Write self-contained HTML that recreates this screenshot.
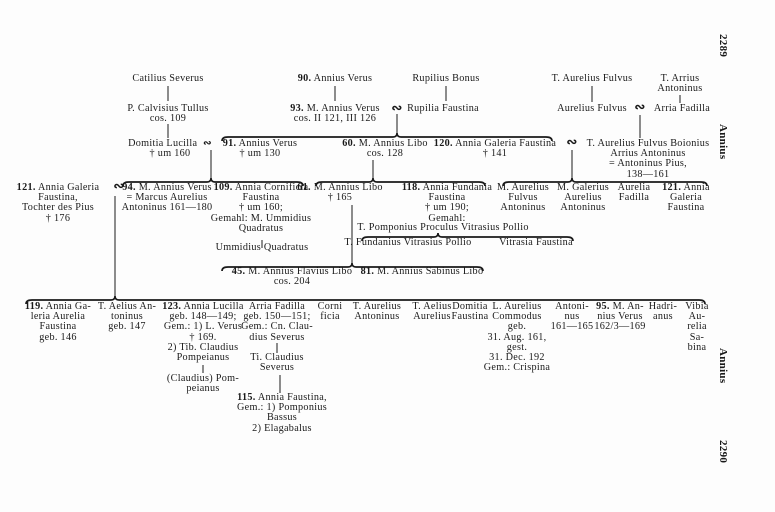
<!DOCTYPE html>
<html><head><meta charset="utf-8"><style>
body{margin:0;background:#fff}
#p{position:relative;width:775px;height:512px;overflow:hidden;background:#fdfdfd;font-family:"Liberation Serif",serif;color:#1a1a1a;font-size:10.2px;letter-spacing:0.3px}
.t{position:absolute;transform:translateX(-50%);text-align:center;white-space:nowrap;line-height:10.2px}
.r{position:absolute;transform:rotate(90deg);transform-origin:left top;white-space:nowrap;font-weight:bold;font-size:11px}
svg{position:absolute;left:0;top:0}
</style></head><body><div id="p">
<svg width="775" height="512" fill="none" stroke="#1a1a1a">
<g stroke-width="1">
<line x1="168" y1="86" x2="168" y2="101"/><line x1="168" y1="124" x2="168" y2="138"/>
<line x1="335" y1="86" x2="335" y2="101"/><line x1="446" y1="86" x2="446" y2="101"/>
<line x1="397" y1="114" x2="397" y2="134"/>
<line x1="592" y1="86" x2="592" y2="102"/><line x1="680" y1="95" x2="680" y2="103"/>
<line x1="640" y1="115" x2="640" y2="138"/>
<line x1="211" y1="150" x2="211" y2="179"/><line x1="373" y1="160" x2="373" y2="179"/>
<line x1="572" y1="150" x2="572" y2="179"/><line x1="352" y1="205" x2="352" y2="264"/>
<line x1="115" y1="196" x2="115" y2="298"/><line x1="262" y1="240" x2="262" y2="248"/>
<line x1="277" y1="343" x2="277" y2="353"/><line x1="280" y1="375" x2="280" y2="393"/>
<line x1="203" y1="365" x2="203" y2="373"/>
</g>
<g stroke-width="1.7">
<path d="M222,141 Q222,137 228,137 L393,137 Q397,137 397,133 Q397,137 401,137 L546,137 Q552,137 552,141"/>
<path d="M123,186 Q123,182 129,182 L207,182 Q211,182 211,178 Q211,182 215,182 L297,182 Q303,182 303,186"/>
<path d="M316,186 Q316,182 322,182 L369,182 Q373,182 373,178 Q373,182 377,182 L479,182 Q485,182 485,186"/>
<path d="M503,186 Q503,182 509,182 L568,182 Q572,182 572,178 Q572,182 576,182 L701,182 Q707,182 707,186"/>
<path d="M362,241 Q362,237 368,237 L434,237 Q438,237 438,233 Q438,237 442,237 L567,237 Q573,237 573,241"/>
<path d="M222,271 Q222,267 228,267 L348,267 Q352,267 352,263 Q352,267 356,267 L477,267 Q483,267 483,271"/>
<path d="M26,304 Q26,300 32,300 L111,300 Q115,300 115,296 Q115,300 119,300 L699,300 Q705,300 705,304"/>
</g></svg>

<div class="t" style="left:168px;top:74px">Catilius Severus</div>
<div class="t" style="left:168px;top:104px">P. Calvisius Tullus<br>cos. 109</div>
<div class="t" style="left:170px;top:139px">Domitia Lucilla &nbsp;<b>∾</b><br>† um 160</div>
<div class="t" style="left:260px;top:139px"><b>91.</b> Annius Verus<br>† um 130</div>
<div class="t" style="left:335px;top:74px"><b>90.</b> Annius Verus</div>
<div class="t" style="left:335px;top:104px"><b>93.</b> M. Annius Verus<br>cos. II 121, III 126</div>
<div class="t" style="left:397px;top:103px;font-size:13px"><b>∾</b></div>
<div class="t" style="left:446px;top:74px">Rupilius Bonus</div>
<div class="t" style="left:443px;top:104px">Rupilia Faustina</div>
<div class="t" style="left:385px;top:139px"><b>60.</b> M. Annius Libo<br>cos. 128</div>
<div class="t" style="left:495px;top:139px"><b>120.</b> Annia Galeria Faustina<br>† 141</div>
<div class="t" style="left:572px;top:137px;font-size:13px"><b>∾</b></div>
<div class="t" style="left:648px;top:139px">T. Aurelius Fulvus Boionius<br>Arrius Antoninus<br>= Antoninus Pius,<br>138—161</div>
<div class="t" style="left:592px;top:74px">T. Aurelius Fulvus</div>
<div class="t" style="left:592px;top:104px">Aurelius Fulvus</div>
<div class="t" style="left:640px;top:102px;font-size:13px"><b>∾</b></div>
<div class="t" style="left:680px;top:74px">T. Arrius<br>Antoninus</div>
<div class="t" style="left:682px;top:104px">Arria Fadilla</div>

<div class="t" style="left:58px;top:183px"><b>121.</b> Annia Galeria<br>Faustina,<br>Tochter des Pius<br>† 176</div>
<div class="t" style="left:119px;top:181px;font-size:13px"><b>∾</b></div>
<div class="t" style="left:167px;top:183px"><b>94.</b> M. Annius Verus<br>= Marcus Aurelius<br>Antoninus 161—180</div>
<div class="t" style="left:261px;top:183px"><b>109.</b> Annia Cornificia<br>Faustina<br>† um 160;<br>Gemahl: M. Ummidius<br>Quadratus</div>
<div class="t" style="left:262px;top:243px">Ummidius Quadratus</div>
<div class="t" style="left:340px;top:183px"><b>61.</b> M. Annius Libo<br>† 165</div>
<div class="t" style="left:447px;top:183px"><b>118.</b> Annia Fundania<br>Faustina<br>† um 190;<br>Gemahl:</div>
<div class="t" style="left:443px;top:223px">T. Pomponius Proculus Vitrasius Pollio</div>
<div class="t" style="left:408px;top:238px">T. Fundanius Vitrasius Pollio</div>
<div class="t" style="left:536px;top:238px">Vitrasia Faustina</div>
<div class="t" style="left:523px;top:183px">M. Aurelius<br>Fulvus<br>Antoninus</div>
<div class="t" style="left:583px;top:183px">M. Galerius<br>Aurelius<br>Antoninus</div>
<div class="t" style="left:634px;top:183px">Aurelia<br>Fadilla</div>
<div class="t" style="left:686px;top:183px"><b>121.</b> Annia<br>Galeria<br>Faustina</div>
<div class="t" style="left:292px;top:267px"><b>45.</b> M. Annius Flavius Libo<br>cos. 204</div>
<div class="t" style="left:422px;top:267px"><b>81.</b> M. Annius Sabinus Libo</div>

<div class="t" style="left:58px;top:302px"><b>119.</b> Annia Ga-<br>leria Aurelia<br>Faustina<br>geb. 146</div>
<div class="t" style="left:127px;top:302px">T. Aelius An-<br>toninus<br>geb. 147</div>
<div class="t" style="left:203px;top:302px"><b>123.</b> Annia Lucilla<br>geb. 148—149;<br>Gem.: 1) L. Verus<br>† 169.<br>2) Tib. Claudius<br>Pompeianus</div>
<div class="t" style="left:203px;top:374px">(Claudius) Pom-<br>peianus</div>
<div class="t" style="left:277px;top:302px">Arria Fadilla<br>geb. 150—151;<br>Gem.: Cn. Clau-<br>dius Severus</div>
<div class="t" style="left:277px;top:353px">Ti. Claudius<br>Severus</div>
<div class="t" style="left:282px;top:393px"><b>115.</b> Annia Faustina,<br>Gem.: 1) Pomponius<br>Bassus<br>2) Elagabalus</div>
<div class="t" style="left:330px;top:302px">Corni<br>ficia</div>
<div class="t" style="left:377px;top:302px">T. Aurelius<br>Antoninus</div>
<div class="t" style="left:432px;top:302px">T. Aelius<br>Aurelius</div>
<div class="t" style="left:470px;top:302px">Domitia<br>Faustina</div>
<div class="t" style="left:517px;top:302px">L. Aurelius<br>Commodus<br>geb.<br>31. Aug. 161,<br>gest.<br>31. Dec. 192<br>Gem.: Crispina</div>
<div class="t" style="left:572px;top:302px">Antoni-<br>nus<br>161—165</div>
<div class="t" style="left:620px;top:302px"><b>95.</b> M. An-<br>nius Verus<br>162/3—169</div>
<div class="t" style="left:663px;top:302px">Hadri-<br>anus</div>
<div class="t" style="left:697px;top:302px">Vibia<br>Au-<br>relia<br>Sa-<br>bina</div>

<div class="r" style="left:729px;top:34px">2289</div>
<div class="r" style="left:729px;top:124px">Annius</div>
<div class="r" style="left:729px;top:348px">Annius</div>
<div class="r" style="left:729px;top:440px">2290</div>
</div></body></html>
